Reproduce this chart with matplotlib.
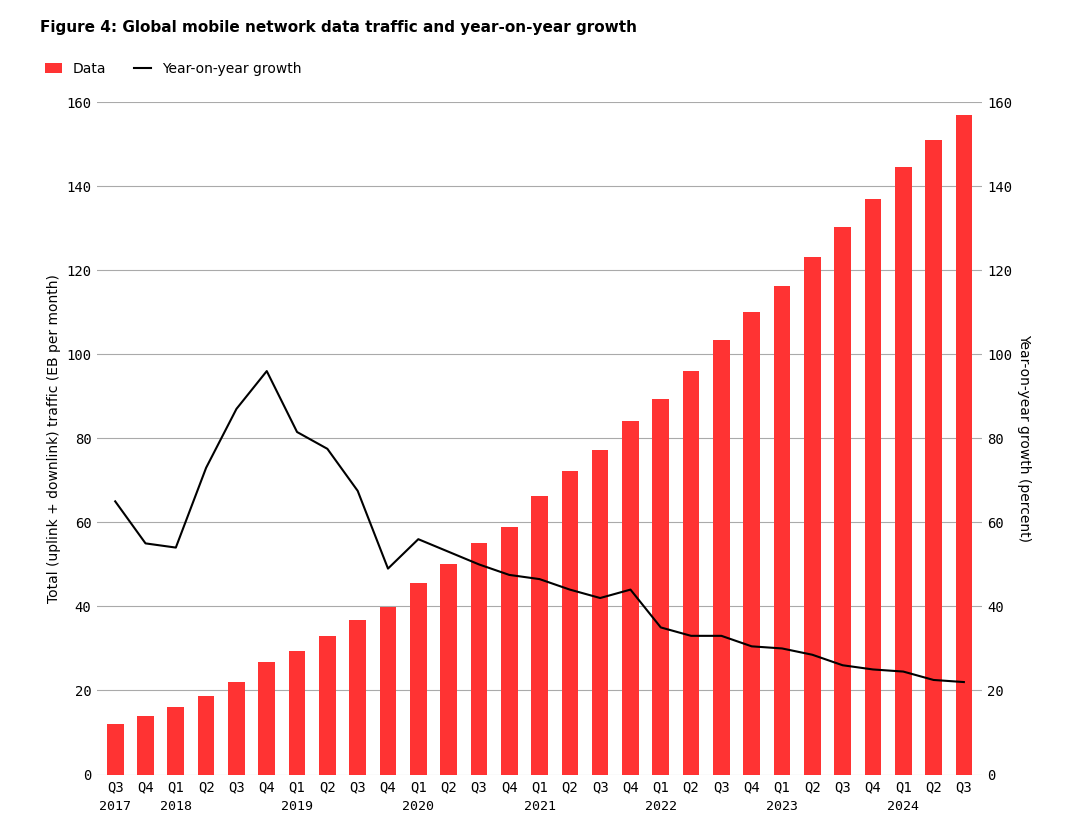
import matplotlib.pyplot as plt
import numpy as np

quarters = ["Q3", "Q4"] + ["Q1", "Q2", "Q3", "Q4"] * 6 + ["Q1", "Q2", "Q3"]
years = ["2017", "2018", "2019", "2020", "2021", "2022", "2023", "2024"]
year_pos = [0, 2, 6, 10, 14, 18, 22, 26]
traffic = [12, 14, 16, 18.7, 22, 26.7, 29.3, 33, 36.7, 39.8, 45.5, 50.2, 55, 58.8,
           66.3, 72.3, 77.3, 84.2, 89.3, 96, 103.5, 110, 116.2, 123.2, 130.3, 137,
           144.6, 151, 157]
growth = [65, 55, 54, 73, 87, 96, 81.5, 77.5, 67.5, 49, 56, 53, 50, 47.5, 46.5, 44,
          42, 44, 35, 33, 33, 30.5, 30, 28.5, 26, 25, 24.5, 22.5, 22]

fig = plt.figure(figsize=(10.78, 8.17), dpi=100)
ax = fig.add_axes([0.09, 0.052, 0.821, 0.823])
x = np.arange(len(traffic))
ax.bar(x, traffic, width=0.55, color="#ff3333", label="Data", zorder=2)
ax.set_ylim(0, 160)
ax.set_xlim(-0.6, len(x) - 0.4)
ax.set_yticks(range(0, 161, 20))
ax.grid(axis="y", color="#aaaaaa", lw=0.8, zorder=0)
for s in ax.spines.values():
    s.set_visible(False)
ax.tick_params(length=0, labelsize=10, pad=4)
ax.set_xticks(x)
ax.set_xticklabels(quarters, fontfamily="DejaVu Sans Mono")
for lab in ax.get_yticklabels():
    lab.set_fontfamily("DejaVu Sans Mono")
for p, y in zip(year_pos, years):
    ax.text(p, -6.0, y, ha="center", va="top", fontsize=9.5, fontfamily="DejaVu Sans Mono")
ax.set_ylabel("Total (uplink + downlink) traffic (EB per month)", fontsize=10)

ax2 = ax.twinx()
ax2.plot(x, growth, color="black", lw=1.5, label="Year-on-year growth")
ax2.set_ylim(0, 160)
ax2.set_yticks(range(0, 161, 20))
for s in ax2.spines.values():
    s.set_visible(False)
ax2.tick_params(length=0, labelsize=10)
for lab in ax2.get_yticklabels():
    lab.set_fontfamily("DejaVu Sans Mono")
ax2.set_ylabel("Year-on-year growth (percent)", fontsize=10, rotation=270, labelpad=14)

h1, l1 = ax.get_legend_handles_labels()
h2, l2 = ax2.get_legend_handles_labels()
fig.legend(h1 + h2, l1 + l2, loc="upper left", bbox_to_anchor=(0.03, 0.94), ncol=2,
           frameon=False, fontsize=10, handlelength=1.2)
fig.text(0.037, 0.975, "Figure 4: Global mobile network data traffic and year-on-year growth",
         fontsize=11, fontweight="bold", va="top")
fig.savefig("out.png")
